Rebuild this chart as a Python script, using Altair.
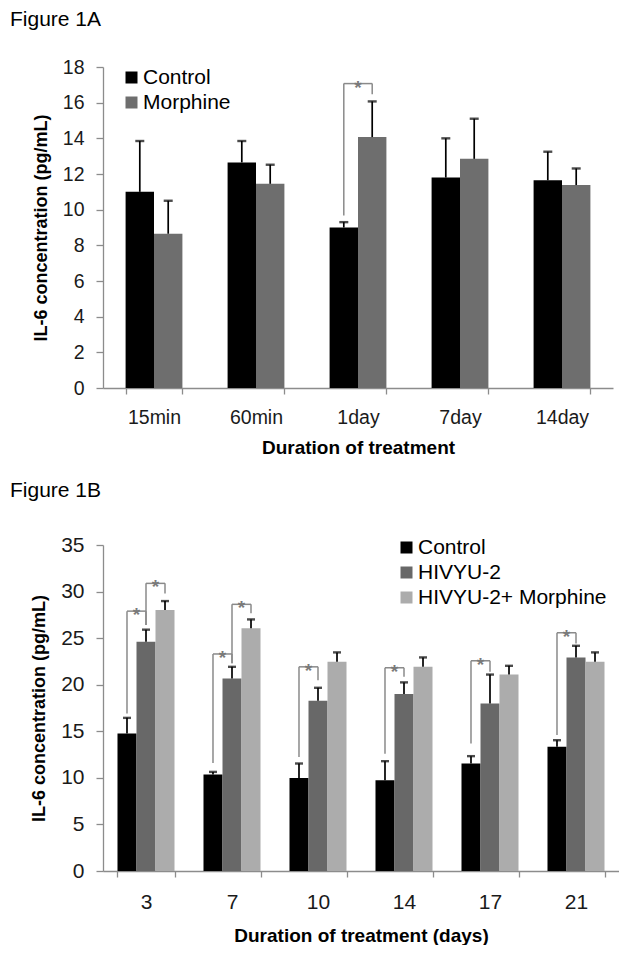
import altair as alt
import pandas as pd

FONT = "Liberation Sans"

# ---------------- Figure 1A data ----------------
cats_a = ["15min", "60min", "1day", "7day", "14day"]
series_a = ["Control", "Morphine"]
control_a = [11.0, 12.65, 9.0, 11.8, 11.65]
control_a_err = [2.85, 1.2, 0.3, 2.2, 1.6]
morphine_a = [8.65, 11.45, 14.07, 12.85, 11.38]
morphine_a_err = [1.85, 1.07, 2.0, 2.25, 0.93]
colors_a = ["#000000", "#6e6e6e"]
yticks_a = [0, 2, 4, 6, 8, 10, 12, 14, 16, 18]
# significance brackets: category, from series, to series, left end, top, right end
sig_cat_a = ["1day"]
sig_from_a = ["Control"]
sig_to_a = ["Morphine"]
sig_low1_a = [9.67]
sig_top_a = [17.07]
sig_low2_a = [16.47]

# ---------------- Figure 1B data ----------------
cats_b = ["3", "7", "10", "14", "17", "21"]
series_b = ["Control", "HIVYU-2", "HIVYU-2+ Morphine"]
control_b = [14.76, 10.36, 9.99, 9.75, 11.54, 13.33]
control_b_err = [1.68, 0.28, 1.55, 2.04, 0.79, 0.71]
hiv_b = [24.61, 20.67, 18.27, 18.99, 17.99, 22.93]
hiv_b_err = [1.3, 1.25, 1.4, 1.26, 3.1, 1.25]
hivm_b = [28.01, 26.05, 22.46, 21.92, 21.1, 22.46]
hivm_b_err = [0.97, 0.96, 1.01, 1.01, 0.93, 1.01]
colors_b = ["#000000", "#686868", "#acacac"]
yticks_b = [0, 5, 10, 15, 20, 25, 30, 35]
sig_cat_b = ["3", "3", "7", "7", "10", "14", "17", "21"]
sig_from_b = ["Control", "HIVYU-2", "Control", "HIVYU-2", "Control", "Control", "Control", "Control"]
sig_to_b = ["HIVYU-2", "HIVYU-2+ Morphine", "HIVYU-2", "HIVYU-2+ Morphine", "HIVYU-2", "HIVYU-2", "HIVYU-2", "HIVYU-2"]
sig_low1_b = [16.9, 26.4, 11.6, 22.3, 12.25, 12.6, 13.7, 14.6]
sig_top_b = [27.9, 30.88, 23.3, 28.63, 21.92, 21.82, 22.57, 25.58]
sig_low2_b = [26.4, 29.8, 22.3, 27.66, 20.49, 20.85, 21.4, 24.43]


def panel(cats, series, vals, errs, colors, sig, ymax, yticks, width, height, band,
          title_text, title_offset, ytitle, xtitle, lx, ly, tick_fs, cap, xtitle_pad):
    n = len(series)
    bw = band / n

    def center(c, s):
        return cats.index(c) + 0.5 + (series.index(s) - (n - 1) / 2) * bw

    rows = []
    for j, s in enumerate(series):
        for i, c in enumerate(cats):
            rows.append(dict(cat=c, series=s, value=vals[j][i],
                             top=vals[j][i] + errs[j][i], xc=center(c, s)))
    df = pd.DataFrame(rows)

    seg_rows, star_rows = [], []
    for c, s1, s2, l1, t, l2 in zip(*sig):
        x1, x2 = center(c, s1), center(c, s2)
        seg_rows.append(dict(x=x1, x2=x1, y=l1, y2=t))
        seg_rows.append(dict(x=x1, x2=x2, y=t, y2=t))
        seg_rows.append(dict(x=x2, x2=x2, y=l2, y2=t))
        star_rows.append(dict(x=(x1 + x2) / 2, y=t))
    seg = pd.DataFrame(seg_rows)
    stars = pd.DataFrame(star_rows)

    yscale = alt.Scale(domain=[0, ymax], nice=False, zero=True)
    xq = alt.Scale(domain=[0, len(cats)], nice=False, zero=False)
    yaxis = alt.Axis(values=yticks, title=ytitle, tickSize=7, labelPadding=12,
                     titlePadding=12, labelFontSize=tick_fs, titleFontSize=18,
                     titleFontWeight="bold")

    bars = alt.Chart(df).mark_bar().encode(
        x=alt.X("cat:N", sort=cats,
                scale=alt.Scale(paddingInner=1 - band, paddingOuter=(1 - band) / 2),
                axis=alt.Axis(title=xtitle, labelAngle=0, tickBand="extent", tickSize=6,
                              labelPadding=14, titlePadding=xtitle_pad, labelFontSize=tick_fs,
                              titleFontSize=19, titleFontWeight="bold")),
        xOffset=alt.XOffset("series:N", sort=series,
                            scale=alt.Scale(paddingInner=0, paddingOuter=0)),
        y=alt.Y("value:Q", scale=yscale, axis=yaxis),
        color=alt.Color("series:N", sort=series,
                        scale=alt.Scale(domain=series, range=colors),
                        legend=alt.Legend(orient="none", legendX=lx, legendY=ly, title=None,
                                          labelFontSize=21, labelFont=FONT, symbolType="square",
                                          symbolSize=144, symbolStrokeWidth=0, labelOffset=1,
                                          rowPadding=3, padding=0, labelColor="#000000",
                                          labelLimit=400)),
    )

    whisk = alt.Chart(df).mark_rule(color="black", strokeWidth=1.7).encode(
        x=alt.X("xc:Q", scale=xq, axis=None),
        y=alt.Y("value:Q", scale=yscale, axis=yaxis),
        y2="top:Q",
    )
    caps = alt.Chart(df).mark_tick(orient="horizontal", size=cap, thickness=2.4,
                                   color="black").encode(
        x=alt.X("xc:Q", scale=xq, axis=None),
        y=alt.Y("top:Q", scale=yscale, axis=yaxis),
    )
    brk = alt.Chart(seg).mark_rule(color="#8a8a8a", strokeWidth=1.5).encode(
        x=alt.X("x:Q", scale=xq, axis=None),
        x2="x2:Q",
        y=alt.Y("y:Q", scale=yscale, axis=yaxis),
        y2="y2:Q",
    )
    star = alt.Chart(stars).mark_text(text="*", fontSize=19, color="#7a7a7a",
                                      baseline="alphabetic", dy=10, font=FONT,
                                      fontWeight="bold").encode(
        x=alt.X("x:Q", scale=xq, axis=None),
        y=alt.Y("y:Q", scale=yscale, axis=yaxis),
    )
    over = alt.layer(whisk, caps, brk, star)
    return alt.layer(bars, over).resolve_scale(x="independent").properties(
        width=width, height=height,
        title=alt.TitleParams(title_text, anchor="start", frame="group", dx=-93,
                              fontSize=21, fontWeight="normal", font=FONT,
                              color="#000000", offset=title_offset),
    )


top = panel(cats_a, series_a, [control_a, morphine_a], [control_a_err, morphine_a_err],
            colors_a, (sig_cat_a, sig_from_a, sig_to_a, sig_low1_a, sig_top_a, sig_low2_a),
            18, yticks_a, 510, 321, 0.557, "Figure 1A", 27,
            "IL-6  concentration (pg/mL)", "Duration of treatment", 18, 0, 19.5, 9, 12)

bottom = panel(cats_b, series_b, [control_b, hiv_b, hivm_b],
               [control_b_err, hiv_b_err, hivm_b_err],
               colors_b, (sig_cat_b, sig_from_b, sig_to_b, sig_low1_b, sig_top_b, sig_low2_b),
               35, yticks_b, 516, 326, 0.663, "Figure 1B", 33,
               "IL-6 concentration (pg/mL)", "Duration of treatment (days)", 293, -8, 21, 8, 14)

chart = alt.vconcat(top, bottom, spacing=22).resolve_scale(
    x="independent", y="independent", color="independent", xOffset="independent"
).resolve_legend(color="independent").properties(
    padding={"left": 2, "top": 1, "right": 0, "bottom": 0}
).configure_view(
    stroke=None
).configure_axis(
    labelFont=FONT, titleFont=FONT, grid=False, domainColor="#8c8c8c",
    tickColor="#8c8c8c", labelColor="#1a1a1a", titleColor="#000000",
    domainWidth=1.3, tickWidth=1.3,
)

chart.save("out.html", embed_options={"renderer": "svg", "actions": False})
